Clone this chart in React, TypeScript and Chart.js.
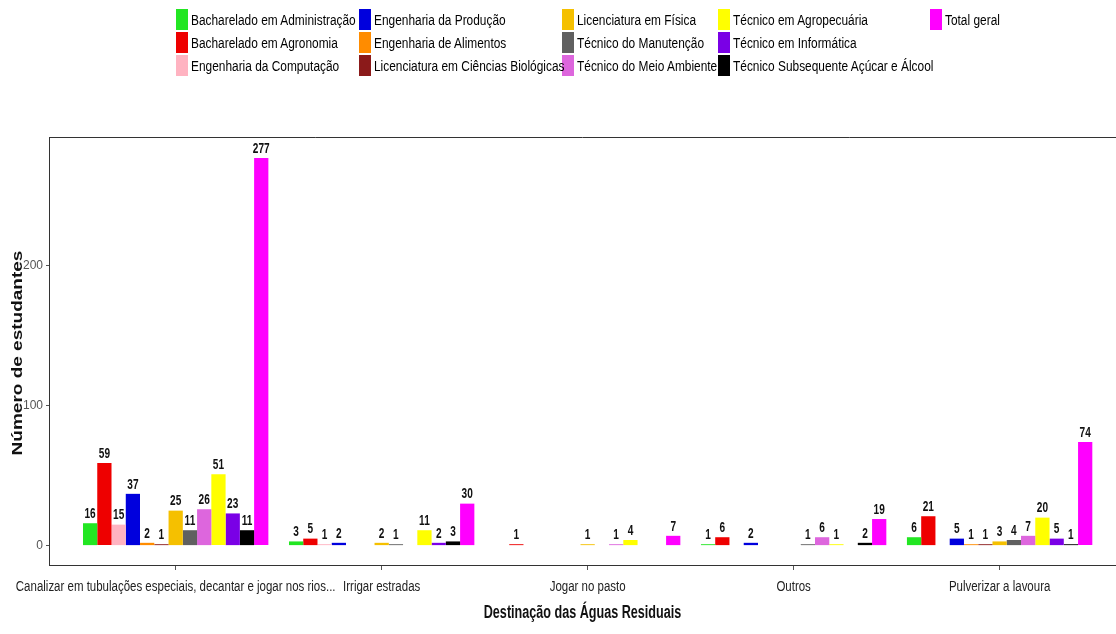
import React, { useEffect, useRef } from "react";
import { Chart, registerables } from "chart.js";

Chart.register(...registerables);

const SANS = "'Liberation Sans', Arial, sans-serif";

const categories = [
  "Canalizar em tubulações especiais, decantar e jogar nos rios...",
  "Irrigar estradas",
  "Jogar no pasto",
  "Outros",
  "Pulverizar a lavoura",
];

const seriesNames = [
  "Bacharelado em Administração",
  "Bacharelado em Agronomia",
  "Engenharia da Computação",
  "Engenharia da Produção",
  "Engenharia de Alimentos",
  "Licenciatura em Ciências Biológicas",
  "Licenciatura em Física",
  "Técnico do Manutenção",
  "Técnico do Meio Ambiente",
  "Técnico em Agropecuária",
  "Técnico em Informática",
  "Técnico Subsequente Açúcar e Álcool",
  "Total geral",
];

const bachAdministracao = [16, 3, null, 1, 6];
const bachAgronomia = [59, 5, 1, 6, 21];
const engComputacao = [15, 1, null, null, null];
const engProducao = [37, 2, null, 2, 5];
const engAlimentos = [2, null, null, null, 1];
const licBiologicas = [1, null, null, null, 1];
const licFisica = [25, 2, 1, null, 3];
const tecManutencao = [11, 1, null, 1, 4];
const tecMeioAmbiente = [26, null, 1, 6, 7];
const tecAgropecuaria = [51, 11, 4, 1, 20];
const tecInformatica = [23, 2, null, null, 5];
const tecAcucarAlcool = [11, 3, null, 2, 1];
const totalGeral = [277, 30, 7, 19, 74];

const seriesValues = [
  bachAdministracao,
  bachAgronomia,
  engComputacao,
  engProducao,
  engAlimentos,
  licBiologicas,
  licFisica,
  tecManutencao,
  tecMeioAmbiente,
  tecAgropecuaria,
  tecInformatica,
  tecAcucarAlcool,
  totalGeral,
];

const seriesColors = [
  "#22e622",
  "#ee0000",
  "#ffb3c1",
  "#0000dd",
  "#ff8c00",
  "#8b1a1a",
  "#f5c000",
  "#606060",
  "#dd66dd",
  "#ffff00",
  "#7a00e6",
  "#000000",
  "#ff00ff",
];

const yTickValues = [0, 100, 200];
const xTitle = "Destinação das Águas Residuais";
const yTitle = "Número de estudantes";

function narrowText(ctx: any, text: string, x: number, y: number, sx: number) {
  ctx.save();
  ctx.translate(x, y);
  ctx.scale(sx, 1);
  ctx.fillText(text, 0, 0);
  ctx.restore();
}

const narrowLabels = {
  id: "narrowLabels",
  afterDatasetsDraw(chart: any) {
    const ctx = chart.ctx;
    ctx.save();
    ctx.font = `bold 14px ${SANS}`;
    ctx.fillStyle = "#111";
    ctx.textAlign = "center";
    ctx.textBaseline = "bottom";
    chart.data.datasets.forEach((ds: any, di: number) => {
      const meta = chart.getDatasetMeta(di);
      meta.data.forEach((el: any, i: number) => {
        const v = ds.data[i];
        if (v === null || v === undefined) return;
        narrowText(ctx, String(v), el.x, el.y - 2, 0.72);
      });
    });
    ctx.restore();
  },
  afterDraw(chart: any) {
    const { ctx, chartArea } = chart;
    const xs = chart.scales.x;
    ctx.save();
    // top border of the panel
    ctx.strokeStyle = "#333";
    ctx.lineWidth = 1;
    ctx.beginPath();
    ctx.moveTo(chartArea.left, chartArea.top + 0.5);
    ctx.lineTo(chartArea.right, chartArea.top + 0.5);
    ctx.stroke();
    // category labels
    ctx.font = `14px ${SANS}`;
    ctx.fillStyle = "#222";
    ctx.textAlign = "center";
    ctx.textBaseline = "middle";
    categories.forEach((c, i) => {
      narrowText(ctx, c, xs.getPixelForValue(i), chartArea.bottom + 22, 0.82);
    });
    // x axis title
    ctx.font = `bold 18px ${SANS}`;
    ctx.fillStyle = "#111";
    narrowText(ctx, xTitle, (chartArea.left + chartArea.right) / 2, chartArea.bottom + 48, 0.7);
    // y axis title (rotated)
    ctx.save();
    ctx.translate(18, (chartArea.top + chartArea.bottom) / 2 + 2);
    ctx.rotate(-Math.PI / 2);
    ctx.scale(1, 0.8);
    ctx.font = `bold 19px ${SANS}`;
    ctx.fillStyle = "#111";
    ctx.textAlign = "center";
    ctx.textBaseline = "middle";
    ctx.fillText(yTitle, 0, 0);
    ctx.restore();
    ctx.restore();
  },
};

export default function App() {
  const canvasRef = useRef<HTMLCanvasElement | null>(null);

  useEffect(() => {
    const canvas = canvasRef.current;
    if (!canvas) return;
    const chart = new Chart(canvas, {
      type: "bar",
      data: {
        labels: categories.map((_, i) => i),
        datasets: seriesNames.map((name, i) => ({
          label: name,
          data: seriesValues[i],
          backgroundColor: seriesColors[i],
          borderWidth: 0,
          categoryPercentage: 0.9,
          barPercentage: 1.0,
        })),
      },
      options: {
        responsive: false,
        animation: false,
        devicePixelRatio: 1,
        layout: { autoPadding: false, padding: { top: 137, right: 0, left: 0, bottom: 0 } },
        plugins: {
          legend: { display: false },
          tooltip: { enabled: false },
        },
        scales: {
          x: {
            type: "linear",
            offset: false,
            min: -0.615,
            max: 4.565,
            afterBuildTicks: (scale: any) => {
              scale.ticks = categories.map((_, i) => ({ value: i }));
            },
            afterFit: (scale: any) => {
              scale.height = 69;
            },
            ticks: {
              display: false,
              autoSkip: false,
              maxRotation: 0,
              minRotation: 0,
            },
            grid: {
              display: true,
              offset: false,
              drawOnChartArea: false,
              drawTicks: true,
              tickLength: 5,
              color: "#555",
            },
            border: { display: true, color: "#333", width: 1 },
          },
          y: {
            type: "linear",
            min: -13.85,
            max: 292,
            afterBuildTicks: (scale: any) => {
              scale.ticks = yTickValues.map((v) => ({ value: v }));
            },
            afterFit: (scale: any) => {
              scale.width = 49;
            },
            ticks: {
              padding: 3,
              color: "#555",
              font: { family: SANS, size: 12 },
            },
            grid: {
              display: true,
              drawOnChartArea: false,
              drawTicks: true,
              tickLength: 3,
              color: "#555",
            },
            border: { display: true, color: "#333", width: 1 },
          },
        },
      },
      plugins: [narrowLabels],
    } as any);
    return () => chart.destroy();
  }, []);

  const legendItems = seriesNames.map((name, i) => (
    <div key={name} style={{ display: "flex", alignItems: "center", height: 23 }}>
      <span
        style={{
          display: "inline-block",
          width: 12,
          height: 21,
          background: seriesColors[i],
          marginRight: 3,
          flex: "0 0 auto",
        }}
      />
      <span
        style={{
          display: "inline-block",
          whiteSpace: "nowrap",
          transform: "scaleX(0.85)",
          transformOrigin: "left center",
        }}
      >
        {name}
      </span>
    </div>
  ));

  return (
    <div
      style={{
        position: "fixed",
        left: 0,
        top: 0,
        width: 1116,
        height: 634,
        background: "#fff",
        overflow: "hidden",
      }}
    >
      <canvas ref={canvasRef} width={1116} height={634} style={{ position: "absolute", left: 0, top: 0 }} />
      <div
        style={{
          position: "absolute",
          left: 176,
          top: 8,
          display: "grid",
          gridAutoFlow: "column",
          gridTemplateRows: "repeat(3, 23px)",
          gridTemplateColumns: "183px 203px 156px 212px 120px",
          fontFamily: SANS,
          fontSize: 14,
          color: "#000",
        }}
      >
        {legendItems}
      </div>
    </div>
  );
}
